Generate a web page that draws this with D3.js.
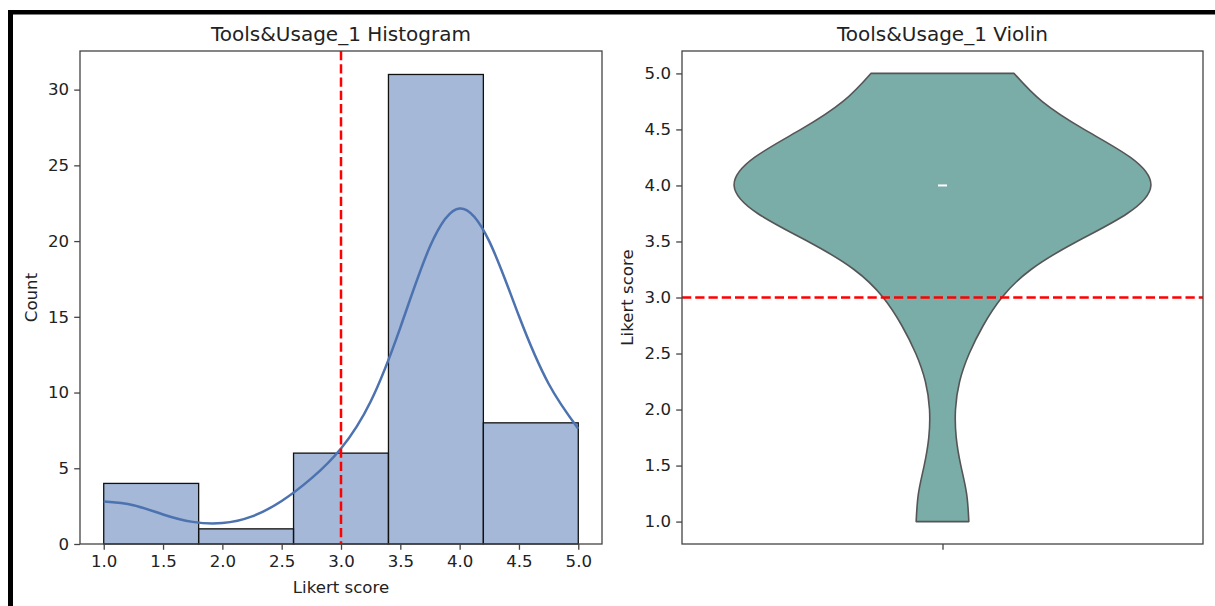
<!DOCTYPE html>
<html>
<head>
<meta charset="utf-8">
<script src="https://cdn.jsdelivr.net/npm/d3@7"></script>
<style>
  html, body { margin: 0; padding: 0; background: #fff; }
  svg { display: block; font-family: "DejaVu Sans", sans-serif; }
</style>
</head>
<body>
<svg id="chart" width="1215" height="606"></svg>
<script>
// Histogram bins (Likert score edges) and counts per bin
const binEdges = [1.0, 1.8, 2.6, 3.4, 4.2, 5.0];
const binCounts = [4, 1, 6, 31, 8];

// Smoothed density, expressed in counts, sampled along the score range
const kdeScores = [1.0, 1.25, 1.5, 1.75, 2.0, 2.25, 2.5, 2.75, 3.0, 3.25, 3.5, 3.75, 4.0, 4.25, 4.5, 4.75, 5.0];
const kdeCounts = [2.80, 2.56, 1.95, 1.46, 1.38, 1.82, 2.84, 4.33, 6.31, 9.41, 14.29, 19.64, 22.15, 19.98, 15.05, 10.58, 7.61];

// Axis ticks
const histXTicks = [1.0, 1.5, 2.0, 2.5, 3.0, 3.5, 4.0, 4.5, 5.0];
const histYTicks = [0, 5, 10, 15, 20, 25, 30];
const violinYTicks = [1.0, 1.5, 2.0, 2.5, 3.0, 3.5, 4.0, 4.5, 5.0];

// Reference score (neutral) and median
const neutralScore = 3.0;
const medianScore = 4.0;

const titles = ["Tools&Usage_1 Histogram", "Tools&Usage_1 Violin"];
const axisLabel = "Likert score";
const countLabel = "Count";

const svg = d3.select("#chart");
const fmt1 = d3.format(".1f");

const TEXT = "#222";
const SPINE = "#444";
const tickLen = 5.8, tickPad = 5.2, fontSize = 16.6;

// Frame lines along the top and left edge
svg.append("rect").attr("x", 8).attr("y", 10).attr("width", 1207).attr("height", 4.5).attr("fill", "#000");
svg.append("rect").attr("x", 8).attr("y", 10).attr("width", 5).attr("height", 596).attr("fill", "#000");

function styleAxis(g) {
  g.selectAll(".domain").remove();
  g.selectAll(".tick line").attr("stroke", SPINE).attr("stroke-width", 1.3);
  g.selectAll(".tick text").attr("fill", TEXT).attr("font-size", fontSize)
    .attr("font-family", "DejaVu Sans, sans-serif");
}

function frame(g, left, top, w, h) {
  g.append("rect").attr("x", left).attr("y", top).attr("width", w).attr("height", h)
    .attr("fill", "none").attr("stroke", SPINE).attr("stroke-width", 1.3);
}

/* ---------- Histogram panel ---------- */
{
  const L = 80, T = 51, W = 522, H = 493;
  const x = d3.scaleLinear().domain([0.8, 5.2]).range([L, L + W]);
  const y = d3.scaleLinear().domain([0, d3.max(binCounts) * 1.05]).range([T + H, T]);
  const g = svg.append("g");

  // bars
  g.selectAll("rect.bar").data(binCounts).join("rect")
    .attr("class", "bar")
    .attr("x", (d, i) => x(binEdges[i]))
    .attr("width", (d, i) => x(binEdges[i + 1]) - x(binEdges[i]))
    .attr("y", d => y(d))
    .attr("height", d => y(0) - y(d))
    .attr("fill", "rgba(76,114,176,0.5)")
    .attr("stroke", "#111")
    .attr("stroke-width", 1.3);

  // density curve
  const line = d3.line().x((d, i) => x(kdeScores[i])).y(d => y(d)).curve(d3.curveNatural);
  g.append("path").attr("d", line(kdeCounts))
    .attr("fill", "none").attr("stroke", "#4c72b0").attr("stroke-width", 2.5)
    .attr("stroke-linecap", "butt");

  // neutral reference line
  g.append("line").attr("x1", x(neutralScore)).attr("x2", x(neutralScore))
    .attr("y1", T).attr("y2", T + H)
    .attr("stroke", "#ff0000").attr("stroke-width", 2.5).attr("stroke-dasharray", "9.25,4");

  frame(g, L, T, W, H);

  const ax = g.append("g").attr("transform", `translate(0,${T + H})`)
    .call(d3.axisBottom(x).tickValues(histXTicks).tickFormat(fmt1).tickSize(tickLen).tickPadding(tickPad));
  styleAxis(ax);
  const ay = g.append("g").attr("transform", `translate(${L},0)`)
    .call(d3.axisLeft(y).tickValues(histYTicks).tickFormat(d3.format("d")).tickSize(tickLen).tickPadding(tickPad));
  styleAxis(ay);

  g.append("text").attr("x", L + W / 2).attr("y", 41).attr("text-anchor", "middle")
    .attr("font-size", 20).attr("fill", TEXT).text(titles[0]);
  g.append("text").attr("x", L + W / 2).attr("y", 593).attr("text-anchor", "middle")
    .attr("font-size", fontSize).attr("fill", TEXT).text(axisLabel);
  g.append("text").attr("transform", `translate(37,${T + H / 2}) rotate(-90)`)
    .attr("text-anchor", "middle").attr("font-size", fontSize).attr("fill", TEXT).text(countLabel);
}

/* ---------- Violin panel ---------- */
{
  const L = 682, T = 51, W = 521, H = 493;
  const x = d3.scaleLinear().domain([-0.5, 0.5]).range([L, L + W]);
  const y = d3.scaleLinear().domain([0.8, 5.2]).range([T + H, T]);
  const g = svg.append("g");
  const peak = d3.max(kdeCounts);
  const half = d => 0.4 * d / peak;

  const area = d3.area()
    .y((d, i) => y(kdeScores[i]))
    .x0(d => x(-half(d)))
    .x1(d => x(half(d)))
    .curve(d3.curveNatural);
  g.append("path").attr("d", area(kdeCounts))
    .attr("fill", "#7aaca8").attr("stroke", "#555").attr("stroke-width", 1.6)
    .attr("stroke-linejoin", "round");

  // median marker
  g.append("line").attr("x1", x(0) - 4.5).attr("x2", x(0) + 4.5)
    .attr("y1", y(medianScore)).attr("y2", y(medianScore))
    .attr("stroke", "#fff").attr("stroke-width", 2);

  // neutral reference line
  g.append("line").attr("x1", L).attr("x2", L + W)
    .attr("y1", y(neutralScore)).attr("y2", y(neutralScore))
    .attr("stroke", "#ff0000").attr("stroke-width", 2.5).attr("stroke-dasharray", "9.25,4");

  frame(g, L, T, W, H);

  const ax = g.append("g").attr("transform", `translate(0,${T + H})`)
    .call(d3.axisBottom(x).tickValues([0]).tickFormat("").tickSize(tickLen));
  styleAxis(ax);
  const ay = g.append("g").attr("transform", `translate(${L},0)`)
    .call(d3.axisLeft(y).tickValues(violinYTicks).tickFormat(fmt1).tickSize(tickLen).tickPadding(tickPad));
  styleAxis(ay);

  g.append("text").attr("x", L + W / 2).attr("y", 41).attr("text-anchor", "middle")
    .attr("font-size", 20).attr("fill", TEXT).text(titles[1]);
  g.append("text").attr("transform", `translate(633,${T + H / 2}) rotate(-90)`)
    .attr("text-anchor", "middle").attr("font-size", fontSize).attr("fill", TEXT).text(axisLabel);
}
</script>
</body>
</html>
